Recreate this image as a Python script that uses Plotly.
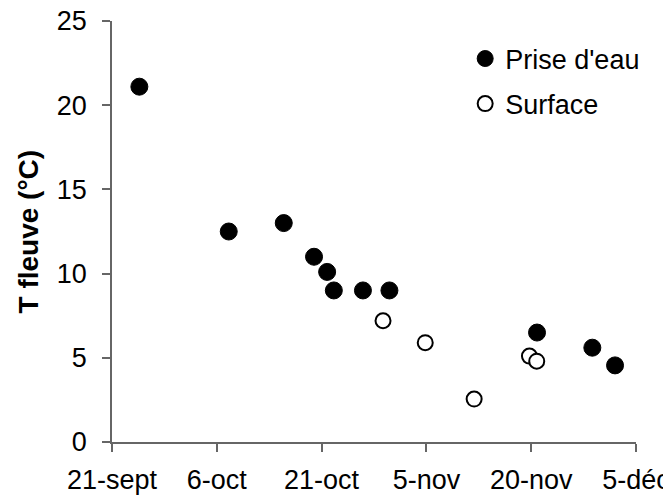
import plotly.graph_objects as go

# Prise d'eau (filled)
prise_dates = ["2005-09-24 22:00", "2005-10-07 17:00", "2005-10-15 14:00", "2005-10-19 22:00",
               "2005-10-21 19:00", "2005-10-22 18:00", "2005-10-26 22:00", "2005-10-30 17:00",
               "2005-11-20 20:00", "2005-11-28 18:00", "2005-12-02 00:00"]
prise_temp = [21.1, 12.5, 13.0, 11.0, 10.1, 9.0, 9.0, 9.0, 6.5, 5.6, 4.55]

# Surface (open)
surf_dates = ["2005-10-29 19:00", "2005-11-04 20:00", "2005-11-11 20:00",
              "2005-11-19 18:00", "2005-11-20 19:00"]
surf_temp = [7.2, 5.9, 2.55, 5.1, 4.8]

tick_dates = ["2005-09-21", "2005-10-06", "2005-10-21", "2005-11-05", "2005-11-20", "2005-12-05"]
tick_labels = ["21-sept", "6-oct", "21-oct", "5-nov", "20-nov", "5-déc"]
y_ticks = [0, 5, 10, 15, 20, 25]
y_title = "T fleuve (°C)"

FONT = "Liberation Sans, Arial, sans-serif"
# page body has an 8px margin, so the figure is sized to fit the window
W, H = 663, 490
ML, MR, MT, MB = 104, 35, 13, 56

fig = go.Figure()
fig.add_trace(go.Scatter(
    x=prise_dates, y=prise_temp, mode="markers", name="Prise d'eau",
    legendgroup="a",
    marker=dict(symbol="circle", size=17, color="black", line=dict(color="black", width=1)),
))
fig.add_trace(go.Scatter(
    x=surf_dates, y=surf_temp, mode="markers", name="Surface",
    legendgroup="b",
    marker=dict(symbol="circle", size=15, color="white", line=dict(color="black", width=2)),
))

axis_color = "#666666"
fig.update_layout(
    width=W, height=H,
    margin=dict(l=ML, r=MR, t=MT, b=MB, autoexpand=False),
    paper_bgcolor="white", plot_bgcolor="white",
    font=dict(family=FONT, size=27, color="black"),
    showlegend=True,
    legend=dict(x=0.674, y=0.968, xanchor="left", yanchor="top",
                font=dict(family=FONT, size=27, color="black"),
                bgcolor="rgba(0,0,0,0)", tracegroupgap=7, itemwidth=30),
    xaxis=dict(
        type="date", range=["2005-09-21", "2005-12-05"],
        tickvals=tick_dates, ticktext=tick_labels,
        showline=True, linecolor=axis_color, linewidth=1.5,
        ticks="outside", ticklen=8, tickcolor=axis_color, tickwidth=1.5,
        showgrid=False, zeroline=False, automargin=False,
        tickfont=dict(family=FONT, size=27, color="black"),
        ticklabelstandoff=5, ticklabeloverflow="allow",
    ),
    yaxis=dict(
        range=[0, 25], tickvals=y_ticks,
        showline=True, linecolor=axis_color, linewidth=1.5,
        ticks="outside", ticklen=8, tickcolor=axis_color, tickwidth=1.5,
        showgrid=False, zeroline=False, automargin=False,
        tickfont=dict(family=FONT, size=27, color="black"),
        ticklabelstandoff=10, ticklabeloverflow="allow",
    ),
    annotations=[dict(
        text="<b>" + y_title + "</b>", textangle=-90,
        xref="paper", yref="paper", x=-(ML - 20) / (W - ML - MR), y=0.5,
        xanchor="center", yanchor="middle", showarrow=False,
        font=dict(family=FONT, size=28, color="black"),
    )],
)

fig.write_html("out.html")
